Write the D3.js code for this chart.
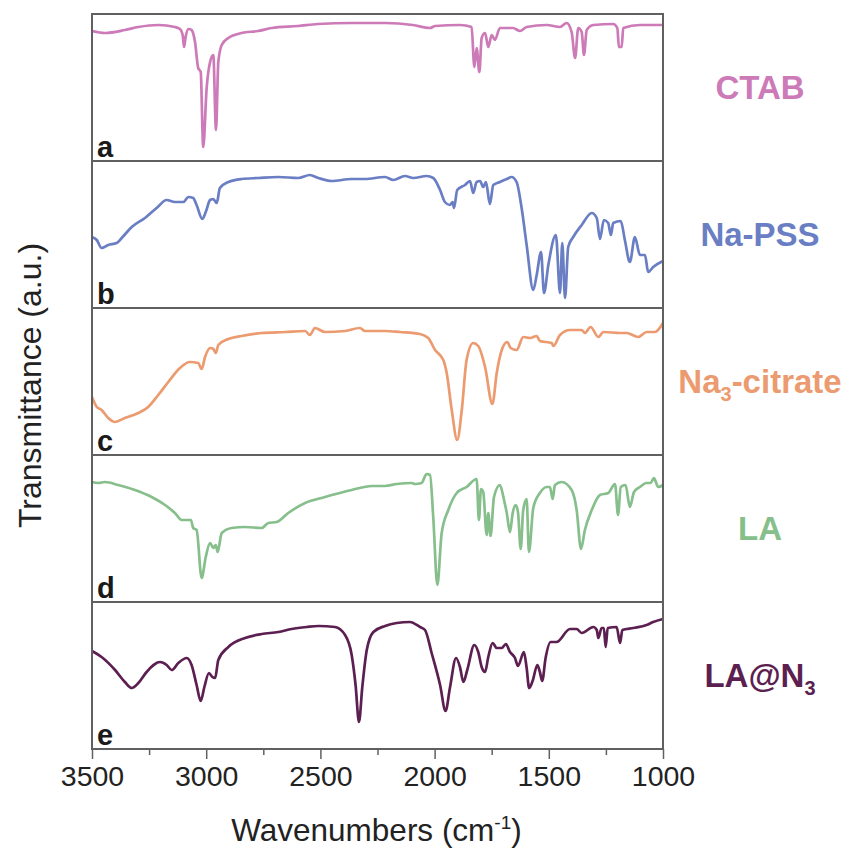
<!DOCTYPE html>
<html>
<head>
<meta charset="utf-8">
<script src="https://cdn.jsdelivr.net/npm/d3@7"></script>
<style>
	body { margin: 0; background: #fff; }
	svg text { font-family: Arial, 'Liberation Sans', sans-serif; }
</style>
</head>
<body>
<div id="chart"></div>
<script>
// spectra: [wavenumber (cm-1), transmittance (a.u., offset inside its panel)]
var ctab = [[3500,130],[3443,128],[3356,131],[3297,134],[3210,136],[3137,134],[3115,132],[3103,126],[3097,114],[3090,124],[3078,132],[3064,131],[3049,119],[3035,93],[3024,89],[3013,14],[2998,73],[2983,99],[2969,106],[2957,31],[2947,99],[2932,116],[2903,123],[2845,128],[2773,130],[2713,133],[2598,135],[2511,137],[2363,138],[2217,138],[2095,136],[2020,133],[1998,135],[1889,136],[1838,134],[1826,94],[1816,113],[1804,89],[1794,123],[1779,128],[1765,114],[1750,126],[1736,121],[1714,133],[1657,133],[1626,130],[1597,134],[1509,136],[1451,134],[1422,138],[1400,129],[1385,103],[1371,133],[1356,129],[1346,106],[1334,131],[1305,136],[1218,137],[1200,133],[1193,114],[1181,114],[1174,133],[1101,136],[1000,136]]

var naPss = [[3500,71],[3479,68],[3458,60],[3429,63],[3392,65],[3370,70],[3326,81],[3268,90],[3217,100],[3173,108],[3137,106],[3100,106],[3078,111],[3057,110],[3042,103],[3017,89],[3002,96],[2983,108],[2969,109],[2954,105],[2940,120],[2903,126],[2845,129],[2772,130],[2684,131],[2597,130],[2546,133],[2509,130],[2451,127],[2363,129],[2305,129],[2217,131],[2181,128],[2130,132],[2093,130],[2035,132],[2006,130],[1976,118],[1955,106],[1933,103],[1921,106],[1915,100],[1901,118],[1867,123],[1845,127],[1831,115],[1816,126],[1801,127],[1787,121],[1775,126],[1758,104],[1743,123],[1714,126],[1684,129],[1663,131],[1641,126],[1619,100],[1597,63],[1568,18],[1553,33],[1534,56],[1521,15],[1502,43],[1469,73],[1451,15],[1441,65],[1429,10],[1415,61],[1393,71],[1356,83],[1312,95],[1290,90],[1276,69],[1259,88],[1240,85],[1228,73],[1218,85],[1185,87],[1167,68],[1145,46],[1123,71],[1101,53],[1079,53],[1065,36],[1043,41],[1000,47]]

var citrate = [[3500,58],[3479,48],[3458,45],[3429,37],[3399,33],[3356,37],[3297,42],[3254,48],[3210,60],[3166,73],[3115,87],[3071,93],[3035,92],[3020,86],[3005,98],[2983,107],[2969,106],[2958,102],[2947,110],[2903,116],[2845,119],[2757,122],[2655,123],[2567,124],[2546,120],[2524,127],[2480,123],[2392,124],[2327,127],[2305,124],[2217,124],[2152,123],[2064,121],[2028,117],[1998,105],[1962,95],[1947,82],[1925,45],[1901,15],[1881,45],[1860,95],[1831,112],[1809,109],[1779,88],[1747,51],[1728,82],[1706,105],[1682,113],[1667,107],[1641,105],[1612,118],[1582,117],[1553,119],[1539,114],[1487,112],[1480,109],[1451,120],[1407,125],[1356,125],[1342,122],[1317,128],[1283,118],[1261,123],[1188,122],[1159,122],[1108,118],[1072,123],[1035,123],[1000,132]]

var la = [[3500,120],[3472,119],[3443,120],[3385,117],[3312,112],[3239,105],[3180,97],[3137,89],[3107,82],[3067,82],[3057,74],[3042,72],[3020,24],[3002,45],[2983,59],[2969,54],[2958,57],[2950,50],[2932,69],[2888,74],[2830,75],[2757,74],[2728,79],[2691,80],[2641,89],[2567,99],[2480,105],[2363,112],[2275,116],[2217,116],[2166,118],[2100,119],[2086,118],[2057,119],[2035,128],[2020,127],[2006,85],[1988,17],[1969,69],[1940,92],[1903,109],[1860,115],[1816,123],[1806,82],[1797,113],[1787,110],[1772,67],[1765,89],[1755,66],[1740,105],[1714,117],[1696,102],[1684,89],[1670,70],[1658,89],[1645,97],[1635,90],[1623,53],[1612,92],[1597,103],[1587,50],[1568,94],[1539,109],[1509,115],[1495,115],[1483,103],[1473,117],[1444,120],[1400,112],[1378,92],[1359,53],[1342,72],[1312,92],[1276,107],[1240,109],[1210,118],[1197,87],[1185,115],[1164,117],[1145,95],[1127,110],[1101,115],[1072,119],[1054,119],[1040,124],[1021,115],[1000,117]]

var laN3 = [[3500,98],[3458,92],[3399,79],[3356,67],[3326,61],[3297,66],[3261,77],[3202,87],[3173,84],[3151,79],[3122,86],[3085,91],[3064,84],[3042,64],[3024,48],[3008,62],[2988,76],[2973,72],[2961,71],[2947,89],[2903,102],[2830,111],[2757,115],[2684,117],[2626,120],[2560,122],[2509,123],[2436,122],[2392,114],[2363,94],[2346,64],[2331,27],[2317,61],[2297,99],[2268,117],[2217,123],[2166,126],[2108,127],[2064,122],[2042,119],[2013,96],[1976,64],[1952,38],[1933,61],[1906,91],[1889,82],[1874,67],[1857,79],[1826,104],[1809,97],[1794,82],[1779,77],[1765,92],[1746,106],[1728,101],[1706,101],[1688,105],[1670,97],[1648,91],[1635,83],[1609,97],[1597,81],[1586,61],[1571,68],[1550,84],[1539,77],[1529,68],[1514,91],[1492,107],[1466,107],[1407,120],[1378,120],[1356,116],[1305,122],[1290,119],[1283,111],[1269,121],[1259,121],[1251,102],[1242,121],[1203,122],[1188,106],[1178,119],[1130,121],[1072,124],[1043,127],[1000,130]]

var majorTicks = [3500, 3000, 2500, 2000, 1500, 1000]
var minorTicks = [3250, 2750, 2250, 1750, 1250]
var panelLetters = ['a', 'b', 'c', 'd', 'e']
// sample names, second item of each part = subscript flag
var sampleNames = [
	[['CTAB', 0]],
	[['Na-PSS', 0]],
	[['Na', 0], ['3', 1], ['-citrate', 0]],
	[['LA', 0]],
	[['LA@N', 0], ['3', 1]]
]
var colors = ['#cc7ab8', '#6a7ec4', '#eb9b6f', '#86bf8b', '#5c1f51']
var spectra = [ctab, naPss, citrate, la, laN3]

;(function() {
	var width = 852
	var height = 852
	var margin = {top: 14, right: 189, bottom: 103, left: 92}
	var plotW = width - margin.left - margin.right
	var plotH = height - margin.top - margin.bottom
	var panelH = plotH / spectra.length

	var svg = d3.select('#chart').append('svg')
		.attr('width', width)
		.attr('height', height)

	var chart = svg.append('g')
		.attr('transform', 'translate(' + margin.left + ',' + margin.top + ')')

	var x = d3.scaleLinear()
		.domain([3500, 1000])
		.range([0, plotW])

	var line = d3.line()
		.curve(d3.curveMonotoneX)
		.x(function(d) { return x(d[0]) })

	spectra.forEach(function(data, i) {
		var y0 = i * panelH
		var y = d3.scaleLinear()
			.domain([0, panelH])
			.range([y0 + panelH, y0])

		line.y(function(d) { return y(d[1]) })

		chart.append('path')
			.datum(data)
			.attr('fill', 'none')
			.attr('stroke', colors[i])
			.attr('stroke-width', 2.7)
			.attr('stroke-linejoin', 'round')
			.attr('d', line)

		chart.append('rect')
			.attr('x', 0)
			.attr('y', y0)
			.attr('width', plotW)
			.attr('height', panelH)
			.attr('fill', 'none')
			.attr('stroke', '#606060')
			.attr('stroke-width', 2)

		chart.append('text')
			.attr('x', 5)
			.attr('y', y0 + panelH - 4)
			.attr('font-size', 29)
			.attr('font-weight', 'bold')
			.attr('fill', '#1a1a1a')
			.text(panelLetters[i])

		// sample name on the right, centred on the panel
		var label = chart.append('text')
			.attr('x', plotW + 97)
			.attr('y', y0 + panelH / 2)
			.attr('dy', '0.36em')
			.attr('text-anchor', 'middle')
			.attr('font-size', 33)
			.attr('font-weight', 'bold')
			.attr('fill', colors[i])

		sampleNames[i].forEach(function(part, k) {
			var prev = k > 0 && sampleNames[i][k - 1][1]
			var t = label.append('tspan').text(part[0])
			if (part[1]) t.attr('font-size', 20).attr('dy', 8)
			else if (prev) t.attr('dy', -8)
		})
	})

	// bottom axis, major + minor ticks
	var axisMajor = d3.axisBottom(x)
		.tickValues(majorTicks)
		.tickSize(10)
		.tickPadding(7)
		.tickFormat(d3.format('d'))

	var axisMinor = d3.axisBottom(x)
		.tickValues(minorTicks)
		.tickSize(6)
		.tickFormat('')

	var gx = chart.append('g')
		.attr('transform', 'translate(0,' + plotH + ')')
		.call(axisMajor)
	chart.append('g')
		.attr('transform', 'translate(0,' + plotH + ')')
		.call(axisMinor)

	chart.selectAll('.domain').remove()
	chart.selectAll('.tick line')
		.attr('stroke', '#606060')
		.attr('stroke-width', 1.5)
	gx.selectAll('text')
		.attr('font-size', 28.5)
		.attr('fill', '#222')
		.attr('font-family', 'Arial, Liberation Sans, sans-serif')

	// axis titles
	var xTitle = svg.append('text')
		.attr('x', margin.left + plotW / 2 - 1)
		.attr('y', 841)
		.attr('text-anchor', 'middle')
		.attr('font-size', 31.5)
		.attr('fill', '#222')
	xTitle.append('tspan').text('Wavenumbers (cm')
	xTitle.append('tspan').text('-1').attr('font-size', 19).attr('dy', -12)
	xTitle.append('tspan').text(')').attr('dy', 12)

	svg.append('text')
		.attr('transform', 'translate(41,' + (margin.top + plotH / 2 + 4) + ') rotate(-90)')
		.attr('text-anchor', 'middle')
		.attr('font-size', 32)
		.attr('fill', '#222')
		.text('Transmittance (a.u.)')
})()
</script>
</body>
</html>
